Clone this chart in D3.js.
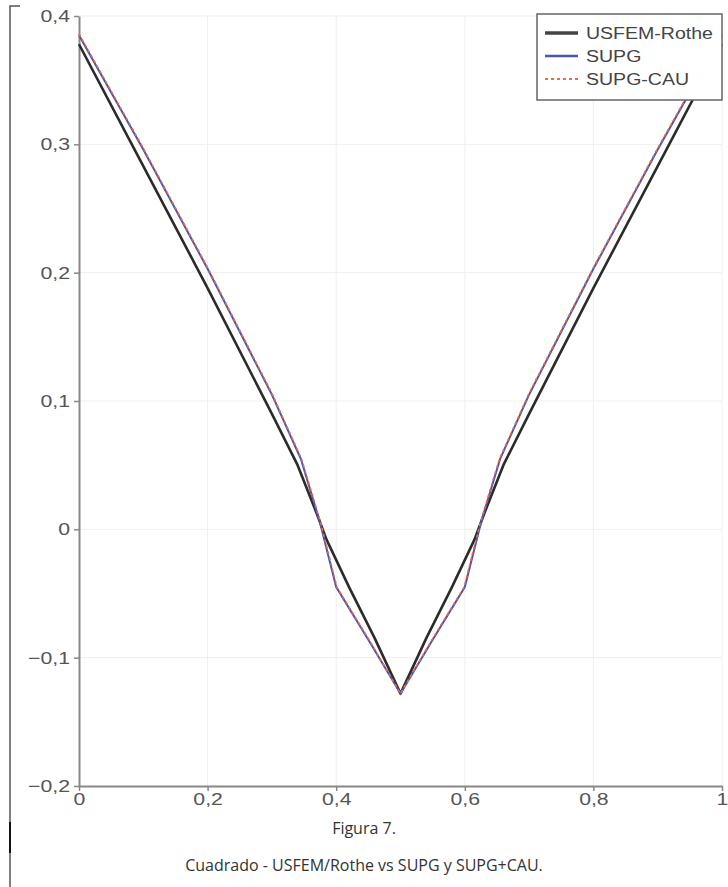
<!DOCTYPE html>
<html><head><meta charset="utf-8">
<script src="https://cdn.jsdelivr.net/npm/d3@7"></script>
<style>body{margin:0;background:#fff}svg{display:block}</style>
</head><body>
<script>
// Data (left half; right half mirrored values read as symmetric)
const xTicks = [0, 0.2, 0.4, 0.6, 0.8, 1];
const xTickLabels = ["0", "0,2", "0,4", "0,6", "0,8", "1"];
const yTicks = [-0.2, -0.1, 0, 0.1, 0.2, 0.3, 0.4];
const yTickLabels = ["\u22120,2", "\u22120,1", "0", "0,1", "0,2", "0,3", "0,4"];
const seriesNames = ["USFEM-Rothe", "SUPG", "SUPG-CAU"];
const usfemX = [0, 0.1, 0.2, 0.3, 0.34, 0.37, 0.385, 0.42, 0.46, 0.5, 0.54, 0.58, 0.615, 0.63, 0.66, 0.7, 0.8, 0.9, 1];
const usfemY = [0.378, 0.283, 0.188, 0.09, 0.05, 0.012, -0.008, -0.045, -0.085, -0.128, -0.085, -0.045, -0.008, 0.012, 0.05, 0.09, 0.188, 0.283, 0.378];
const supgX = [0, 0.1, 0.2, 0.3, 0.345, 0.36, 0.375, 0.39, 0.4, 0.45, 0.5, 0.55, 0.6, 0.61, 0.625, 0.64, 0.655, 0.7, 0.8, 0.9, 1];
const supgY = [0.385, 0.296, 0.203, 0.105, 0.055, 0.03, 0.005, -0.025, -0.045, -0.086, -0.128, -0.086, -0.045, -0.025, 0.005, 0.03, 0.055, 0.105, 0.203, 0.296, 0.385];
const supgCauX = [0, 0.1, 0.2, 0.3, 0.346, 0.361, 0.376, 0.391, 0.401, 0.451, 0.5, 0.549, 0.599, 0.609, 0.624, 0.639, 0.654, 0.7, 0.8, 0.9, 1];
const supgCauY = [0.386, 0.297, 0.204, 0.106, 0.055, 0.03, 0.005, -0.025, -0.045, -0.086, -0.128, -0.086, -0.045, -0.025, 0.005, 0.03, 0.055, 0.106, 0.204, 0.297, 0.386];

const W = 728, H = 887;
const svg = d3.select("body").append("svg").attr("width", W).attr("height", H);
const x = d3.scaleLinear().domain([0, 1]).range([79, 722]);
const y = d3.scaleLinear().domain([-0.2, 0.4]).range([786, 16]);
const font = "'Liberation Sans', Arial, sans-serif";

// left bracket
svg.append("path").attr("d", "M20,6H10V887").attr("fill", "none").attr("stroke", "#555").attr("stroke-width", 1.5);
svg.append("line").attr("x1", 10).attr("x2", 10).attr("y1", 822).attr("y2", 853).attr("stroke", "#111").attr("stroke-width", 2);

// grid
const g = svg.append("g");
g.selectAll(".gx").data(xTicks.slice(1)).enter().append("line")
  .attr("x1", d => x(d)).attr("x2", d => x(d)).attr("y1", 16).attr("y2", 786)
  .attr("stroke", "#efefef").attr("stroke-width", 1);
g.selectAll(".gy").data(yTicks.slice(1)).enter().append("line")
  .attr("x1", 79).attr("x2", 722).attr("y1", d => y(d)).attr("y2", d => y(d))
  .attr("stroke", "#efefef").attr("stroke-width", 1);

// axes
const xAxis = d3.axisBottom(x).tickValues(xTicks).tickFormat((d, i) => xTickLabels[i]).tickSize(5).tickSizeOuter(0);
const yAxis = d3.axisLeft(y).tickValues(yTicks).tickFormat((d, i) => yTickLabels[i]).tickSize(5).tickSizeOuter(0);
const ax = svg.append("g").attr("transform", "translate(0,786)").call(xAxis);
const ay = svg.append("g").attr("transform", "translate(79,0)").call(yAxis);
[ax, ay].forEach(a => {
  a.select(".domain").attr("stroke", "#888").attr("stroke-width", 2);
  a.selectAll(".tick line").attr("stroke", "#888").attr("stroke-width", 1.5);
  a.selectAll("text").attr("font-family", font).attr("font-size", 17).attr("fill", "#555")
    .attr("transform", "scale(1.25,1)");
});
ax.selectAll("text").attr("dy", "0.95em").attr("y", 3);
ay.selectAll("text").attr("x", -7.2);

// lines
const line = d3.line().x(d => x(d[0])).y(d => y(d[1]));
const z = (a, b) => a.map((v, i) => [v, b[i]]);
svg.append("path").datum(z(usfemX, usfemY)).attr("d", line).attr("fill", "none")
  .attr("stroke", "#2b2b2b").attr("stroke-width", 2.6).attr("stroke-linejoin", "round");
svg.append("path").datum(z(supgX, supgY)).attr("d", line).attr("fill", "none")
  .attr("stroke", "#4a55b0").attr("stroke-width", 2);
svg.append("path").datum(z(supgCauX, supgCauY)).attr("d", line).attr("fill", "none")
  .attr("stroke", "#f06a3a").attr("stroke-width", 1.6).attr("stroke-dasharray", "3,3");

// legend
const lg = svg.append("g");
lg.append("rect").attr("x", 537).attr("y", 14).attr("width", 185).attr("height", 86)
  .attr("fill", "#fff").attr("stroke", "#666").attr("stroke-width", 1.5);
const legStyles = [
  {c: "#444", w: 3.5, d: null},
  {c: "#4a55b0", w: 2.5, d: null},
  {c: "#f06a3a", w: 2, d: "3,3"}
];
seriesNames.forEach((n, i) => {
  const yy = 33 + i * 23;
  const l = lg.append("line").attr("x1", 545).attr("x2", 578).attr("y1", yy).attr("y2", yy)
    .attr("stroke", legStyles[i].c).attr("stroke-width", legStyles[i].w);
  if (legStyles[i].d) l.attr("stroke-dasharray", legStyles[i].d);
  lg.append("text").attr("x", 586 / 1.15).attr("y", yy + 6).text(n)
    .attr("transform", "scale(1.15,1)")
    .attr("font-family", font).attr("font-size", 17).attr("fill", "#444");
});

// captions
const cf = "'Open Sans', 'Noto Sans', sans-serif";
svg.append("text").attr("x", 364).attr("y", 834).attr("text-anchor", "middle")
  .attr("font-family", cf).attr("font-size", 16).attr("fill", "#333").text("Figura 7.");
svg.append("text").attr("x", 364).attr("y", 871).attr("text-anchor", "middle")
  .attr("font-family", cf).attr("font-size", 16).attr("fill", "#333").text("Cuadrado - USFEM/Rothe vs SUPG y SUPG+CAU.");
</script>
</body></html>
